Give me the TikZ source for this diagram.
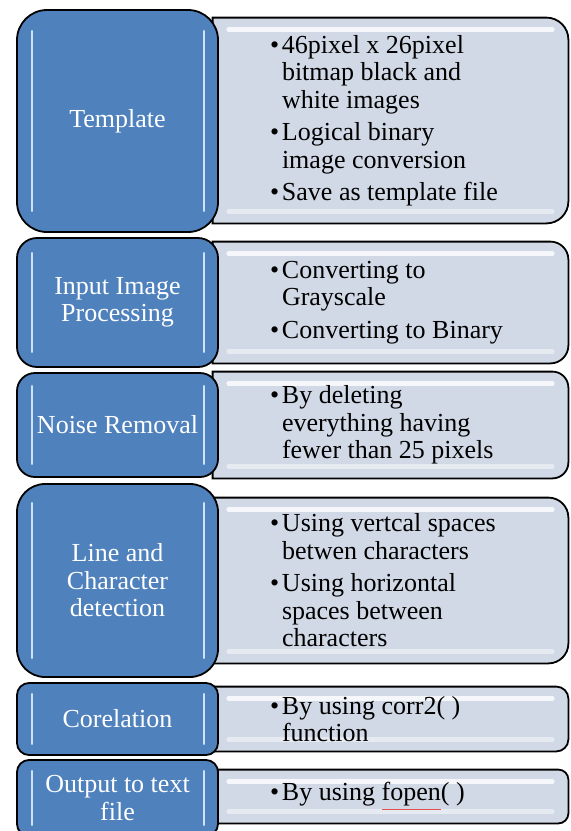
\documentclass[tikz,border=0pt]{standalone}
\usepackage{fontspec}
\setmainfont{Liberation Serif}
\usetikzlibrary{positioning}

\definecolor{stageblue}{RGB}{79,129,189}
\definecolor{detailgray}{RGB}{210,217,230}
\definecolor{glossblue}{RGB}{206,226,250}
\definecolor{typored}{RGB}{226,80,80}

\tikzset{
	stage/.style={draw=black, line width=0.9pt, fill=stageblue, text=white, align=center, inner sep=0pt, minimum width=100.5pt, font=\fontsize{13}{13.75}\selectfont},
	detailarea/.style={inner sep=0pt, minimum width=177.5pt},
	detail/.style={draw=black, line width=0.9pt, fill=detailgray},
	detailtext/.style={inner sep=0pt, align=left, font=\fontsize{13}{13.75}\selectfont},
	sheen/.style={white, line width=2.2pt, line cap=round, opacity=0.8},
	stagesheen/.style={glossblue, line width=1.3pt, line cap=round},
}

\def\bl{\makebox[6pt][l]{\textbullet}}
\def\cl{\hspace*{6pt}}
\def\typo#1{\rlap{\textcolor{typored}{\underline{\phantom{#1}}}}#1}
\def\rightround(#1)(#2){\draw[detail] (#1.north west) -- ([xshift=-#2pt]#1.north east) arc[start angle=90, end angle=0, radius=#2pt] -- ([yshift=#2pt]#1.south east) arc[start angle=0, end angle=-90, radius=#2pt] -- (#1.south west) -- cycle;
	\draw[sheen] ([xshift=8pt,yshift=-6pt]#1.north west) -- ([xshift=-8pt,yshift=-6pt]#1.north east);
	\draw[sheen, opacity=0.45] ([xshift=8pt,yshift=6pt]#1.south west) -- ([xshift=-8pt,yshift=6pt]#1.south east);}
\def\stagesheen(#1)(#2){\draw[stagesheen] ([xshift=8pt,yshift=-#2pt]#1.north west) -- ([xshift=8pt,yshift=#2pt]#1.south west);
	\draw[stagesheen] ([xshift=-7.5pt,yshift=-#2pt]#1.north east) -- ([xshift=-7.5pt,yshift=#2pt]#1.south east);}

\begin{document}
\begin{tikzpicture}[x=0.5pt, y=-0.5pt]
		%%%%% START %%%%%
		\useasboundingbox (0, 0) rectangle (570, 831);
		\clip (0, 0) rectangle (570, 831);
		
		% template
		\node[detailarea, minimum height=102.5pt] (tplD) at (390.5, 120.5) {};
		\rightround(tplD)(11)
		\node[detailtext, right=28.5pt of tplD.west] (tplT) {\bl 46pixel x 26pixel\\\cl bitmap black and\\\cl white images\\[2.5pt]\bl Logical binary\\\cl image conversion\\[2.5pt]\bl Save as template file};
		\node[stage, minimum height=111pt, rounded corners=15pt] (tpl) at (117.5, 121) {Template};
		\stagesheen(tpl)(11)
		
		% input
		\node[detailarea, minimum height=60.5pt] (inpD) at (390.5, 302.5) {};
		\rightround(inpD)(9)
		\node[detailtext, right=28.5pt of inpD.west] (inpT) {\bl Converting to\\\cl Grayscale\\[2.5pt]\bl Converting to Binary};
		\node[stage, minimum height=64.5pt, rounded corners=10pt] (inp) at (117.5, 302.5) {Input Image\\Processing};
		\stagesheen(inp)(8)
		
		% noise
		\node[detailarea, minimum height=53pt] (noiseD) at (390.5, 425) {};
		\rightround(noiseD)(8)
		\node[detailtext, right=28.5pt of noiseD.west] (noiseT) {\bl By deleting\\\cl everything having\\\cl fewer than 25 pixels};
		\node[stage, minimum height=52pt, rounded corners=9pt] (noise) at (117.5, 425) {Noise Removal};
		\stagesheen(noise)(7)
		
		% segmentation
		\node[detailarea, minimum height=82.5pt] (segD) at (390.5, 580.5) {};
		\rightround(segD)(10)
		\node[detailtext, right=28.5pt of segD.west] (segT) {\bl Using vertcal spaces\\\cl betwen characters\\[2.5pt]\bl Using horizontal\\\cl spaces between\\\cl characters};
		\node[stage, minimum height=96.5pt, rounded corners=14pt] (seg) at (117.5, 580.5) {Line and\\Character\\detection};
		\stagesheen(seg)(10)
		
		% correlation
		\node[detailarea, minimum height=32pt] (corrD) at (390.5, 719) {};
		\rightround(corrD)(6)
		\node[detailtext, right=28.5pt of corrD.west] (corrT) {\bl By using corr2( )\\\cl function};
		\node[stage, minimum height=36pt, rounded corners=6pt] (corr) at (117.5, 719) {Corelation};
		\stagesheen(corr)(6)
		
		% output
		\node[detailarea, minimum height=26.5pt] (outpD) at (390.5, 796.5) {};
		\rightround(outpD)(5)
		\node[detailtext, right=28.5pt of outpD.west] (outpT) {\bl By using \typo{fopen}( )};
		\node[stage, minimum height=38pt, rounded corners=6pt] (outp) at (117.5, 798) {Output to text\\file};
		\stagesheen(outp)(6)
		
		%%%%% END %%%%%
	\end{tikzpicture}
\end{document}
